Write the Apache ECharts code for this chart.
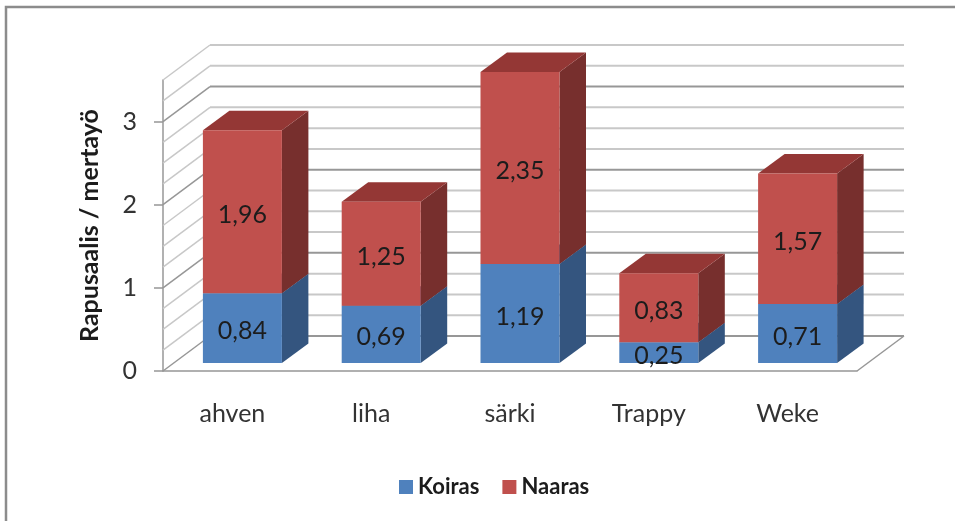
<!DOCTYPE html>
<html>
<head>
<meta charset="utf-8">
<style>html,body{margin:0;padding:0;background:#fff}#root{width:955px;height:521px}</style>
<script src="https://cdn.jsdelivr.net/npm/echarts@6/dist/echarts.min.js"></script>
</head>
<body>
<div id="root"></div>
<script>
var categories = ['ahven', 'liha', 'särki', 'Trappy', 'Weke'];
var koiras = [0.84, 0.69, 1.19, 0.25, 0.71];
var naaras = [1.96, 1.25, 2.35, 0.83, 1.57];
var yTicks = [0, 1, 2, 3];
var wallLines = [0, 0.25, 0.5, 0.75, 1, 1.25, 1.5, 1.75, 2, 2.25, 2.5, 2.75, 3, 3.25, 3.5];
var yMax = 3.5;

var font = 'Lato';
// the fake 3d: how far the back wall and the bars sit behind the front plane
var wallDx = 47, wallDy = 35;
var barOffX = 10, barOffY = 8, barW = 79, depthX = 26.5, depthY = 19.5;

function lineEl(x1, y1, x2, y2, color, width) {
    return {
        type: 'line',
        shape: {x1: x1, y1: y1, x2: x2, y2: y2},
        style: {stroke: color, lineWidth: width}
    };
}

function renderWall(params, api) {
    var v = api.value(0);
    var y = api.coord([0, v])[1];
    var left = params.coordSys.x;
    var right = left + params.coordSys.width;
    var color = v % 1 === 0 ? '#979797' : '#c8c8c8';
    var items = [
        lineEl(left, y, left + wallDx, y - wallDy, color, 1.5),
        lineEl(left + wallDx, y - wallDy, right + wallDx, y - wallDy, color, 2)
    ];
    if (v === 0) {
        items.push(lineEl(right, y, right + wallDx, y - wallDy, '#979797', 1.5));
    }
    return {type: 'group', children: items};
}

function poly(points, color) {
    return {type: 'polygon', shape: {points: points}, style: {fill: color}};
}

function makeBar(front, side, top) {
    return function (params, api) {
        var low = api.coord([api.value(0), api.value(1)]);
        // the column is cut off at the top of the axis, särki goes past it
        var high = api.coord([api.value(0), Math.min(api.value(2), yMax)]);
        var x1 = low[0] + barOffX - barW / 2, x2 = x1 + barW;
        var y1 = low[1] - barOffY, y2 = high[1] - barOffY;
        return {
            type: 'group',
            children: [
                poly([[x2, y1], [x2 + depthX, y1 - depthY], [x2 + depthX, y2 - depthY], [x2, y2]], side),
                poly([[x1, y2], [x2, y2], [x2 + depthX, y2 - depthY], [x1 + depthX, y2 - depthY]], top),
                poly([[x1, y1], [x2, y1], [x2, y2], [x1, y2]], front),
                {
                    type: 'text',
                    style: {
                        x: (x1 + x2) / 2, y: (y1 + y2) / 2 + 3,
                        text: api.value(3).toFixed(2).replace('.', ','),
                        font: '25px ' + font, fill: '#1c1c1c',
                        align: 'center', verticalAlign: 'middle'
                    }
                }
            ]
        };
    };
}

var koirasData = categories.map(function (c, i) {
    return [i, 0, koiras[i], koiras[i]];
});
var naarasData = categories.map(function (c, i) {
    return [i, koiras[i], koiras[i] + naaras[i], naaras[i]];
});

var myChart = echarts.init(document.getElementById('root'), null, {renderer: 'canvas'});

myChart.setOption({
    animation: false,
    backgroundColor: '#fff',
    graphic: [{
        type: 'polyline',
        shape: {points: [[6, 521], [6, 7], [955, 7]]},
        style: {fill: 'none', stroke: '#8c8c8c', lineWidth: 2.5}
    }],
    grid: {left: 163, right: 98, top: 80, bottom: 150},
    legend: {
        data: ['Koiras', 'Naaras'],
        left: 394, top: 471,
        icon: 'rect', itemWidth: 14, itemHeight: 14, itemGap: 23,
        textStyle: {fontFamily: font, fontWeight: 'bold', fontSize: 22, color: '#1c1c1c'}
    },
    xAxis: {
        type: 'category',
        data: categories,
        axisLine: {lineStyle: {color: '#979797', width: 1.5}},
        axisTick: {show: false},
        axisLabel: {fontFamily: font, fontSize: 25, color: '#333', margin: 30}
    },
    yAxis: {
        type: 'value',
        min: 0, max: yMax,
        name: 'Rapusaalis / mertayö',
        nameLocation: 'middle',
        nameGap: 61,
        nameTextStyle: {fontFamily: font, fontWeight: 'bold', fontSize: 25, color: '#1c1c1c'},
        splitLine: {show: false},
        axisLine: {show: true, lineStyle: {color: '#979797', width: 1.5}},
        axisTick: {show: true, length: 9, customValues: yTicks, lineStyle: {color: '#979797', width: 1.5}},
        axisLabel: {fontFamily: font, fontSize: 25, color: '#333', margin: 26, padding: [5, 0, 0, 0], customValues: yTicks}
    },
    series: [
        {
            type: 'custom', name: 'wall', silent: true, z: 1,
            renderItem: renderWall,
            data: wallLines.map(function (v) { return [v]; }),
            encode: {y: 0}
        },
        {
            type: 'custom', name: 'Koiras', z: 2,
            itemStyle: {color: '#4f81bd'},
            renderItem: makeBar('#4f81bd', '#34557f', '#3a6090'),
            data: koirasData,
            encode: {x: 0, y: [1, 2]}
        },
        {
            type: 'custom', name: 'Naaras', z: 3,
            itemStyle: {color: '#c0504d'},
            renderItem: makeBar('#c0504d', '#772f2d', '#943735'),
            data: naarasData,
            encode: {x: 0, y: [1, 2]}
        }
    ]
});
</script>
</body>
</html>
